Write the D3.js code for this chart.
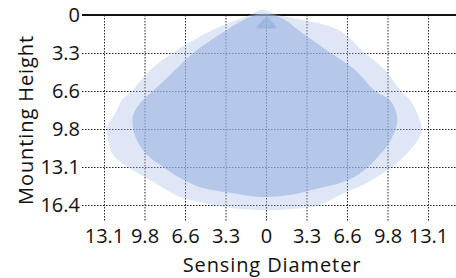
<!DOCTYPE html>
<html>
<head>
<meta charset="utf-8">
<script src="https://cdn.jsdelivr.net/npm/d3@7"></script>
<style>
  html, body { margin: 0; padding: 0; background: #fff; }
  svg { display: block; }
  text { font-family: "Open Sans", sans-serif; fill: #111; }
</style>
</head>
<body>
<div id="chart"></div>
<script>
// Sensing pattern, positions in metres; tick labels shown in feet
const xTicks      = [-4, -3, -2, -1, 0, 1, 2, 3, 4];
const xTickLabels = ['13.1', '9.8', '6.6', '3.3', '0', '3.3', '6.6', '9.8', '13.1'];
const yTicks      = [0, 1, 2, 3, 4, 5];
const yTickLabels = ['0', '3.3', '6.6', '9.8', '13.1', '16.4'];

// outer (minor motion) coverage outline: [diameter, height]
const outerPattern = [
  [-0.10, -0.13], [0.30, 0.00], [1.78, 0.39], [2.44, 1.00], [2.94, 1.45],
  [3.33, 2.00], [3.56, 2.24], [3.75, 2.63], [3.85, 3.03], [3.75, 3.29],
  [3.56, 3.55], [3.31, 3.82], [3.01, 4.08], [2.40, 4.47], [1.83, 4.74],
  [1.33, 5.00], [0.59, 5.11], [-0.15, 5.13], [-0.89, 5.08], [-1.63, 4.92],
  [-2.12, 4.79], [-2.79, 4.39], [-3.41, 4.00], [-3.78, 3.68], [-3.90, 3.29],
  [-3.93, 3.00], [-3.68, 2.50], [-3.56, 2.24], [-3.31, 2.00], [-2.86, 1.45],
  [-2.30, 1.00], [-1.31, 0.39], [-0.40, 0.00]
];

// inner (major motion) coverage outline
const innerPattern = [
  [0.00, -0.03], [0.47, 0.13], [0.79, 0.39], [1.60, 1.00], [2.20, 1.45],
  [2.69, 2.00], [3.06, 2.24], [3.23, 2.63], [3.23, 2.89], [3.14, 3.16],
  [3.01, 3.42], [2.81, 3.68], [2.57, 3.95], [2.27, 4.21], [1.83, 4.42],
  [1.33, 4.55], [0.59, 4.74], [-0.15, 4.79], [-0.89, 4.68], [-1.63, 4.53],
  [-2.12, 4.29], [-2.54, 4.00], [-2.94, 3.68], [-3.19, 3.29], [-3.28, 3.00],
  [-3.28, 2.63], [-3.04, 2.24], [-2.79, 2.00], [-2.37, 1.58], [-1.80, 1.00],
  [-0.96, 0.39], [-0.40, 0.05]
];

// sensor marker
const sensorMark = [[0.02, 0.08], [0.22, 0.32], [-0.20, 0.32]];

const width = 456, height = 278;
const gridLeft = 82, gridRight = 456, gridBottom = 222;

const svg = d3.select('#chart').append('svg')
  .attr('width', width)
  .attr('height', height);

const x = d3.scaleLinear().domain([-4, 4]).range([104, 428]);
const y = d3.scaleLinear().domain([0, 5]).range([15, 205]);

// ── Grid ─────────────────────────────────────────────────────
const grid = svg.append('g')
  .attr('stroke', '#222')
  .attr('stroke-width', 1)
  .attr('stroke-dasharray', '1.5,1.5');

grid.selectAll('line.v')
  .data(xTicks)
  .join('line')
  .attr('class', 'v')
  .attr('x1', d => x(d) + 0.5).attr('x2', d => x(d) + 0.5)
  .attr('y1', y(0)).attr('y2', gridBottom);

grid.selectAll('line.h')
  .data(yTicks.slice(1))
  .join('line')
  .attr('class', 'h')
  .attr('x1', gridLeft).attr('x2', gridRight)
  .attr('y1', d => y(d) + 0.5).attr('y2', d => y(d) + 0.5);

// top axis line
svg.append('line')
  .attr('x1', gridLeft).attr('x2', gridRight)
  .attr('y1', y(0)).attr('y2', y(0))
  .attr('stroke', '#111')
  .attr('stroke-width', 2);

// ── Coverage shapes ──────────────────────────────────────────
const outline = d3.line()
  .x(d => x(d[0]))
  .y(d => y(d[1]))
  .curve(d3.curveCatmullRomClosed.alpha(0.5));

svg.append('path')
  .attr('d', outline(outerPattern))
  .attr('fill', 'rgb(172,192,234)')
  .attr('fill-opacity', 0.38);

svg.append('path')
  .attr('d', outline(innerPattern))
  .attr('fill', 'rgb(148,174,222)')
  .attr('fill-opacity', 0.55);

svg.append('path')
  .attr('d', d3.line().x(d => x(d[0])).y(d => y(d[1])).curve(d3.curveLinearClosed)(sensorMark))
  .attr('fill', 'rgb(150,176,222)')
  .attr('fill-opacity', 0.6)
  .attr('stroke', 'rgb(150,176,222)')
  .attr('stroke-opacity', 0.6)
  .attr('stroke-linejoin', 'round')
  .attr('stroke-width', 3);

// ── Axes ─────────────────────────────────────────────────────
const xAxis = svg.append('g')
  .attr('transform', `translate(0,${gridBottom})`)
  .call(d3.axisBottom(x)
    .tickValues(xTicks)
    .tickFormat((d, i) => xTickLabels[i])
    .tickSize(0)
    .tickPadding(7));
xAxis.select('.domain').remove();
xAxis.selectAll('text')
  .attr('font-size', 20)
  .attr('font-family', '"Open Sans", sans-serif')
  .attr('fill', '#111');

const yAxis = svg.append('g')
  .attr('transform', `translate(${gridLeft},0)`)
  .call(d3.axisLeft(y)
    .tickValues(yTicks)
    .tickFormat((d, i) => yTickLabels[i])
    .tickSize(0)
    .tickPadding(2));
yAxis.select('.domain').remove();
yAxis.selectAll('text')
  .attr('font-size', 20)
  .attr('font-family', '"Open Sans", sans-serif')
  .attr('fill', '#111');

// axis titles
svg.append('text')
  .attr('x', 272)
  .attr('y', 272)
  .attr('text-anchor', 'middle')
  .attr('font-size', 20)
  .attr('letter-spacing', 0.9)
  .text('Sensing Diameter');

svg.append('text')
  .attr('transform', 'translate(33,120) rotate(-90)')
  .attr('text-anchor', 'middle')
  .attr('font-size', 20)
  .attr('letter-spacing', 0.9)
  .text('Mounting Height');
</script>
</body>
</html>
